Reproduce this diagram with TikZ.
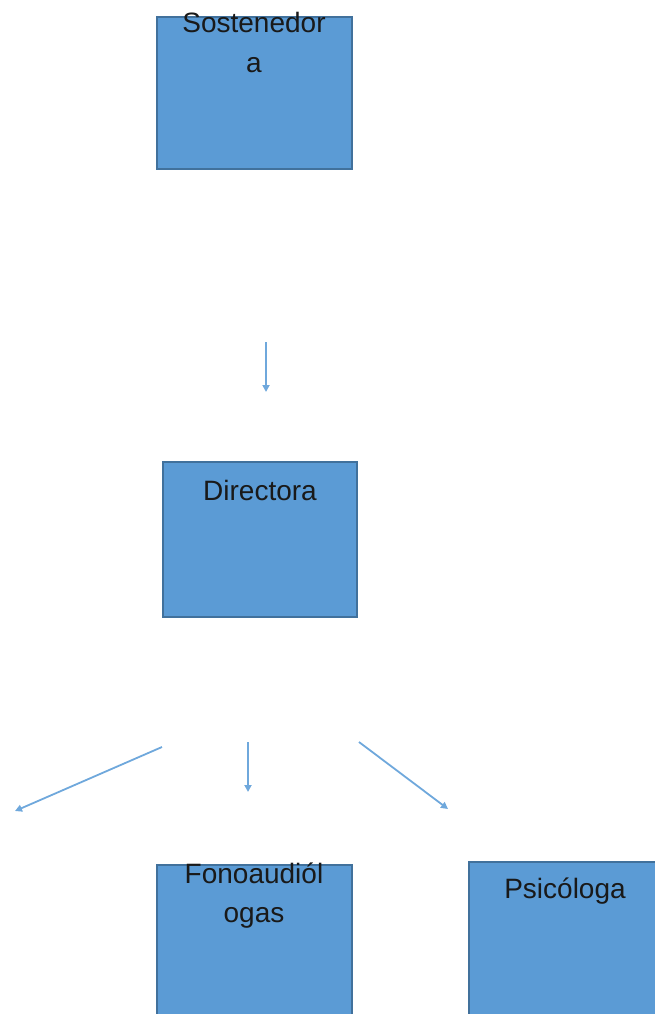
\documentclass[tikz,border=0pt]{standalone}
\usepackage{fontspec}
\setmainfont{Liberation Sans}
\usetikzlibrary{arrows.meta}
\definecolor{boxfill}{HTML}{5B9BD5}
\definecolor{boxline}{HTML}{41719C}
\definecolor{arrowcol}{HTML}{6FA8DC}
\begin{document}
\begin{tikzpicture}[x=1pt,y=-1pt,
  orgbox/.style={draw=boxline,line width=1.5pt,fill=boxfill},
  lbl/.style={anchor=base,inner sep=0pt,font=\fontsize{28}{34}\selectfont,text=black!90},
  conn/.style={draw=arrowcol,line width=1.8pt,-{Triangle[length=7pt,width=7pt]}}]
\useasboundingbox (0,0) rectangle (654,1014);
% boxes
\path[orgbox] (157,17) rectangle (352,169);
\path[orgbox] (163,462) rectangle (357,617);
\path[orgbox] (157,865) rectangle (352,1020);
\path[orgbox] (469,862) rectangle (660,1020);
% labels
\node[lbl] (s1) at (254,33) {Sostenedor};
\node[lbl] (s2) at (254,73) {a};
\node[lbl] (d1) at (260,500) {Directora};
\node[lbl] (f1) at (254,883) {Fonoaudiól};
\node[lbl] (f2) at (254,922) {ogas};
\node[lbl] (p1) at (565,898) {Psicóloga};
% arrows
\coordinate (a1s) at (266,342); \coordinate (a1e) at (266,392);
\coordinate (a2s) at (162,747); \coordinate (a2e) at (15,811);
\coordinate (a3s) at (248,742); \coordinate (a3e) at (248,792);
\coordinate (a4s) at (359,742); \coordinate (a4e) at (448,809);
\draw[conn] (a1s) -- (a1e);
\draw[conn] (a2s) -- (a2e);
\draw[conn] (a3s) -- (a3e);
\draw[conn] (a4s) -- (a4e);
\end{tikzpicture}
\end{document}
